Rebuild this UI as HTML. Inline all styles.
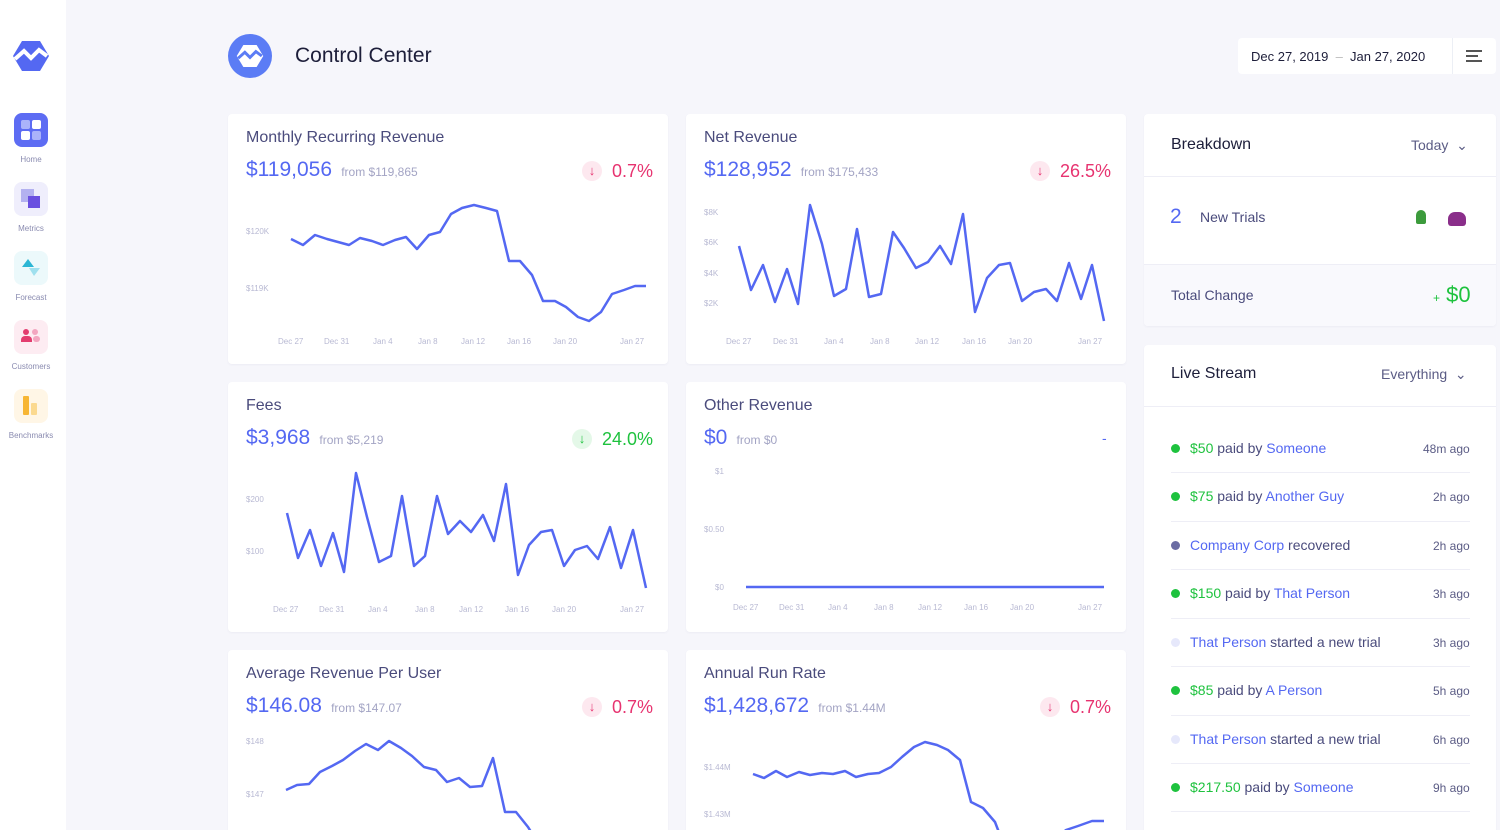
<!DOCTYPE html>
<html style="width:1500px;height:830px;overflow:hidden"><head><meta charset="utf-8"><style>
*{margin:0;padding:0;box-sizing:border-box}
body{width:1500px;height:830px;overflow:hidden;background:#f6f6fb;font-family:"Liberation Sans",sans-serif;position:relative}
.a{position:absolute;white-space:nowrap}
.side{position:absolute;left:0;top:0;width:66px;height:830px;background:#fff}
.card{position:absolute;background:#fff;border-radius:4px;box-shadow:0 1px 2px rgba(80,80,140,.06)}
.t{font-size:16px;color:#4a4b7c}
.big{font-size:21px;color:#5468f2}
.from{font-size:12px;color:#a3a4c4}
.red{color:#e73370;font-size:18px}
.grn{color:#1ec23e;font-size:18px}
.ic{width:20px;height:20px;border-radius:50%;text-align:center;line-height:20px;font-size:13px}
.ax{font-size:8px;fill:#b8b9d3;font-family:"Liberation Sans",sans-serif}
.nav{position:absolute;left:14px;width:34px;height:34px;border-radius:8px}
.nl{position:absolute;width:62px;left:0;text-align:center;font-size:8px;color:#8a8bb0}
.ls{font-size:14px;color:#4a4b7c}
.ls .g{color:#1ec23e}.ls .b{color:#5468f2}
.ago{font-size:12px;color:#5b5c85}
.dot{position:absolute;width:9px;height:9px;border-radius:50%}
.sep{position:absolute;left:1171px;width:299px;height:1px;background:#eeeef6}
</style></head><body>
<div class="side"></div>
<svg class="a" style="left:12px;top:40px" width="38" height="32" viewBox="0 0 38 32"><path d="M10 1h18l9 15-9 15H10L1 16z" fill="#5468f2"/><path d="M3 19l9-8 7 7 8-8 8 6" stroke="#fff" stroke-width="4" fill="none"/></svg>
<div class="nav" style="top:113px;background:#5d6cf3"><div class="a" style="left:7px;top:7px;width:9px;height:9px;background:#aab3fa;border-radius:2px"></div><div class="a" style="left:18px;top:7px;width:9px;height:9px;background:#fff;border-radius:2px"></div><div class="a" style="left:7px;top:18px;width:9px;height:9px;background:#fff;border-radius:2px"></div><div class="a" style="left:18px;top:18px;width:9px;height:9px;background:#aab3fa;border-radius:2px"></div></div>
<div class="nl" style="top:155px">Home</div>
<div class="nav" style="top:182px;background:#efeefc"><div class="a" style="left:7px;top:7px;width:13px;height:13px;background:#b3b1f0"></div><div class="a" style="left:14px;top:14px;width:12px;height:12px;background:#6a4fe0"></div></div>
<div class="nl" style="top:224px">Metrics</div>
<div class="nav" style="top:251px;background:#ecf9fb"><svg class="a" style="left:6px;top:6px" width="22" height="22"><path d="M2 10L8 2l6 8z" fill="#2cb6d4"/><path d="M9 11h11l-6 8z" fill="#9fe0ee"/></svg></div>
<div class="nl" style="top:293px">Forecast</div>
<div class="nav" style="top:320px;background:#fdecf2"><div class="a" style="left:9px;top:9px;width:6px;height:6px;border-radius:50%;background:#e33d6f"></div><div class="a" style="left:18px;top:9px;width:6px;height:6px;border-radius:50%;background:#f3a6c0"></div><div class="a" style="left:7px;top:16px;width:11px;height:6px;border-radius:4px 4px 0 0;background:#e33d6f"></div><div class="a" style="left:19px;top:16px;width:7px;height:6px;border-radius:3px;background:#f3a6c0"></div></div>
<div class="nl" style="top:362px">Customers</div>
<div class="nav" style="top:389px;background:#fff6e6"><div class="a" style="left:9px;top:7px;width:6px;height:19px;background:#f7b634;border-radius:1px"></div><div class="a" style="left:17px;top:14px;width:6px;height:12px;background:#fbd98f;border-radius:1px"></div></div>
<div class="nl" style="top:431px">Benchmarks</div>

<div class="a" style="left:228px;top:34px;width:44px;height:44px;border-radius:50%;background:#5b7cf5"></div>
<svg class="a" style="left:236px;top:43px" width="28" height="26" viewBox="0 0 38 32"><path d="M10 1h18l9 15-9 15H10L1 16z" fill="#fff"/><path d="M3 19l9-8 7 7 8-8 8 6" stroke="#5b7cf5" stroke-width="4" fill="none"/></svg>
<div class="a" style="left:295px;top:44px;font-size:21px;color:#1d1e3a">Control Center</div>
<div class="a" style="left:1238px;top:38px;width:258px;height:36px;background:#fff;border-radius:4px"></div>
<div class="a" style="left:1452px;top:38px;width:1px;height:36px;background:#eceff5"></div>
<div class="a" style="left:1251px;top:49px;font-size:13px;color:#1d1e3a">Dec 27, 2019 &nbsp;<span style="color:#bbb">–</span>&nbsp; Jan 27, 2020</div>
<div class="a" style="left:1466px;top:50px;width:16px;height:2px;background:#555"></div><div class="a" style="left:1466px;top:55px;width:12px;height:2px;background:#555"></div><div class="a" style="left:1466px;top:60px;width:16px;height:2px;background:#555"></div>

<div class="card" style="left:228px;top:114px;width:440px;height:250px"></div>
<div class="card" style="left:686px;top:114px;width:440px;height:250px"></div>
<div class="card" style="left:228px;top:382px;width:440px;height:250px"></div>
<div class="card" style="left:686px;top:382px;width:440px;height:250px"></div>
<div class="card" style="left:228px;top:650px;width:440px;height:180px;border-radius:4px 4px 0 0"></div>
<div class="card" style="left:686px;top:650px;width:440px;height:180px;border-radius:4px 4px 0 0"></div>

<div class="a t" style="left:246px;top:129px">Monthly Recurring Revenue</div>
<div class="a big" style="left:246px;top:158px">$119,056 <span class="from">&nbsp;from $119,865</span></div>
<div class="a ic" style="left:582px;top:161px;background:#fde8ef;color:#e73370">↓</div><div class="a red" style="left:612px;top:161px">0.7%</div>

<div class="a t" style="left:704px;top:129px">Net Revenue</div>
<div class="a big" style="left:704px;top:158px">$128,952 <span class="from">&nbsp;from $175,433</span></div>
<div class="a ic" style="left:1030px;top:161px;background:#fde8ef;color:#e73370">↓</div><div class="a red" style="left:1060px;top:161px">26.5%</div>

<div class="a t" style="left:246px;top:397px">Fees</div>
<div class="a big" style="left:246px;top:426px">$3,968 <span class="from">&nbsp;from $5,219</span></div>
<div class="a ic" style="left:572px;top:429px;background:#e4f8e8;color:#1ec23e">↓</div><div class="a grn" style="left:602px;top:429px">24.0%</div>

<div class="a t" style="left:704px;top:397px">Other Revenue</div>
<div class="a big" style="left:704px;top:426px">$0 <span class="from">&nbsp;from $0</span></div>
<div class="a" style="left:1102px;top:430px;color:#5468f2;font-size:14px">-</div>

<div class="a t" style="left:246px;top:665px">Average Revenue Per User</div>
<div class="a big" style="left:246px;top:694px">$146.08 <span class="from">&nbsp;from $147.07</span></div>
<div class="a ic" style="left:582px;top:697px;background:#fde8ef;color:#e73370">↓</div><div class="a red" style="left:612px;top:697px">0.7%</div>

<div class="a t" style="left:704px;top:665px">Annual Run Rate</div>
<div class="a big" style="left:704px;top:694px">$1,428,672 <span class="from">&nbsp;from $1.44M</span></div>
<div class="a ic" style="left:1040px;top:697px;background:#fde8ef;color:#e73370">↓</div><div class="a red" style="left:1070px;top:697px">0.7%</div>

<svg class="a" style="left:0;top:0" width="1500" height="830">
<g fill="none" stroke="#5468f2" stroke-width="2.5" stroke-linejoin="round">
<polyline points="291,239 303,245 315,235 327,239 338,242 349,245 360,238 372,241 383,245 395,240 406,237 417,249 429,235 440,232 451,214 462,208 474,205 486,208 497,211 509,261 520,261 532,275 543,301 555,301 566,307 578,317 589,321 601,312 612,294 624,290 635,286 646,286"/>
<polyline points="739,246 751,290 763,265 775,302 787,269 798,304 810,205 822,244 834,296 846,289 857,229 869,297 881,294 893,232 904,248 916,268 928,262 940,246 951,264 963,214 975,312 987,278 999,265 1010,263 1022,301 1034,292 1046,289 1057,301 1069,263 1081,299 1092,265 1104,321"/>
<polyline points="287,513 298,558 310,530 321,566 333,533 344,572 356,473 367,517 379,562 391,556 402,496 414,566 425,556 437,496 448,534 460,521 471,532 483,515 494,541 506,484 518,575 529,545 541,532 552,530 564,566 575,550 587,546 598,559 610,527 621,568 633,530 646,588"/>
<polyline points="746,587 1104,587"/>
<polyline points="286,790 297,785 309,784 320,772 332,766 343,760 355,751 366,744 378,750 389,741 401,748 412,756 424,767 436,770 447,782 459,778 470,787 482,786 493,758 505,812 516,812 528,827 533,835"/>
<polyline points="753,774 764,778 776,771 787,777 799,772 810,775 822,773 833,774 845,771 856,777 868,774 879,773 891,767 902,757 914,747 925,742 937,745 948,750 960,760 971,802 983,808 995,822 1000,835"/>
<polyline points="1060,835 1066,830 1078,826 1092,821 1104,821"/>
</g>
<g class="ax">
<text x="246" y="234">$120K</text><text x="246" y="291">$119K</text>
<text x="278" y="344">Dec 27</text><text x="324" y="344">Dec 31</text><text x="373" y="344">Jan 4</text><text x="418" y="344">Jan 8</text><text x="461" y="344">Jan 12</text><text x="507" y="344">Jan 16</text><text x="553" y="344">Jan 20</text><text x="620" y="344">Jan 27</text>
<text x="704" y="215">$8K</text><text x="704" y="245">$6K</text><text x="704" y="276">$4K</text><text x="704" y="306">$2K</text>
<text x="726" y="344">Dec 27</text><text x="773" y="344">Dec 31</text><text x="824" y="344">Jan 4</text><text x="870" y="344">Jan 8</text><text x="915" y="344">Jan 12</text><text x="962" y="344">Jan 16</text><text x="1008" y="344">Jan 20</text><text x="1078" y="344">Jan 27</text>
<text x="246" y="502">$200</text><text x="246" y="554">$100</text>
<text x="273" y="612">Dec 27</text><text x="319" y="612">Dec 31</text><text x="368" y="612">Jan 4</text><text x="415" y="612">Jan 8</text><text x="459" y="612">Jan 12</text><text x="505" y="612">Jan 16</text><text x="552" y="612">Jan 20</text><text x="620" y="612">Jan 27</text>
<text x="715" y="474">$1</text><text x="704" y="532">$0.50</text><text x="715" y="590">$0</text>
<text x="733" y="610">Dec 27</text><text x="779" y="610">Dec 31</text><text x="828" y="610">Jan 4</text><text x="874" y="610">Jan 8</text><text x="918" y="610">Jan 12</text><text x="964" y="610">Jan 16</text><text x="1010" y="610">Jan 20</text><text x="1078" y="610">Jan 27</text>
<text x="246" y="744">$148</text><text x="246" y="797">$147</text>
<text x="704" y="770">$1.44M</text><text x="704" y="817">$1.43M</text>
</g>
</svg>

<div class="card" style="left:1144px;top:114px;width:352px;height:212px"></div>
<div class="a" style="left:1144px;top:264px;width:352px;height:62px;background:#f9f9fd;border-top:1px solid #eeeef6;border-radius:0 0 4px 4px"></div>
<div class="a" style="left:1144px;top:176px;width:352px;height:1px;background:#eeeef6"></div>
<div class="a" style="left:1171px;top:136px;font-size:16px;color:#1d1e3a">Breakdown</div>
<div class="a" style="left:1411px;top:137px;font-size:14px;color:#5b5c85">Today &nbsp;⌄</div>
<div class="a" style="left:1170px;top:205px;font-size:21px;color:#5468f2">2</div>
<div class="a" style="left:1200px;top:209px;font-size:14px;color:#4a4b7c">New Trials</div>
<div class="a" style="left:1416px;top:210px;width:10px;height:14px;background:#3c9b3c;border-radius:5px 5px 2px 2px"></div>
<div class="a" style="left:1448px;top:212px;width:18px;height:14px;background:#8a2e8a;border-radius:7px 7px 3px 3px"></div>
<div class="a" style="left:1171px;top:287px;font-size:14px;color:#4a4b7c">Total Change</div>
<div class="a" style="left:1433px;top:282px;font-size:22px;color:#1ec23e"><span style="font-size:12px">+</span> $0</div>

<div class="card" style="left:1144px;top:345px;width:352px;height:485px;border-radius:4px 4px 0 0"></div>
<div class="a" style="left:1144px;top:406px;width:352px;height:1px;background:#eeeef6"></div>
<div class="a" style="left:1171px;top:365px;font-size:16px;color:#1d1e3a">Live Stream</div>
<div class="a" style="left:1381px;top:366px;font-size:14px;color:#5b5c85">Everything &nbsp;⌄</div>

<div class="dot" style="left:1171px;top:444px;background:#1ec23e"></div><div class="a ls" style="left:1190px;top:440px"><span class="g">$50</span> paid by <span class="b">Someone</span></div><div class="a ago" style="left:1423px;top:442px">48m ago</div>
<div class="sep" style="top:472px"></div>
<div class="dot" style="left:1171px;top:492px;background:#1ec23e"></div><div class="a ls" style="left:1190px;top:488px"><span class="g">$75</span> paid by <span class="b">Another Guy</span></div><div class="a ago" style="left:1433px;top:490px">2h ago</div>
<div class="sep" style="top:521px"></div>
<div class="dot" style="left:1171px;top:541px;background:#6b6ca3"></div><div class="a ls" style="left:1190px;top:537px"><span class="b">Company Corp</span> recovered</div><div class="a ago" style="left:1433px;top:539px">2h ago</div>
<div class="sep" style="top:569px"></div>
<div class="dot" style="left:1171px;top:589px;background:#1ec23e"></div><div class="a ls" style="left:1190px;top:585px"><span class="g">$150</span> paid by <span class="b">That Person</span></div><div class="a ago" style="left:1433px;top:587px">3h ago</div>
<div class="sep" style="top:618px"></div>
<div class="dot" style="left:1171px;top:638px;background:#e6e8fb"></div><div class="a ls" style="left:1190px;top:634px"><span class="b">That Person</span> started a new trial</div><div class="a ago" style="left:1433px;top:636px">3h ago</div>
<div class="sep" style="top:666px"></div>
<div class="dot" style="left:1171px;top:686px;background:#1ec23e"></div><div class="a ls" style="left:1190px;top:682px"><span class="g">$85</span> paid by <span class="b">A Person</span></div><div class="a ago" style="left:1433px;top:684px">5h ago</div>
<div class="sep" style="top:715px"></div>
<div class="dot" style="left:1171px;top:735px;background:#e6e8fb"></div><div class="a ls" style="left:1190px;top:731px"><span class="b">That Person</span> started a new trial</div><div class="a ago" style="left:1433px;top:733px">6h ago</div>
<div class="sep" style="top:763px"></div>
<div class="dot" style="left:1171px;top:783px;background:#1ec23e"></div><div class="a ls" style="left:1190px;top:779px"><span class="g">$217.50</span> paid by <span class="b">Someone</span></div><div class="a ago" style="left:1433px;top:781px">9h ago</div>
<div class="sep" style="top:811px"></div>
</body></html>
